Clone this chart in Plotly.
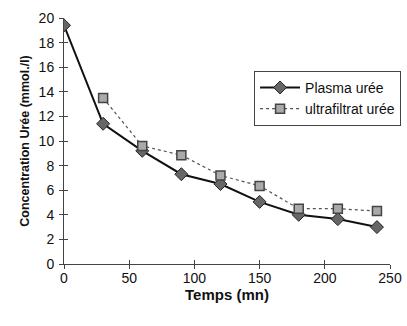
import plotly.graph_objects as go

time_plasma = [0, 30, 60, 90, 120, 150, 180, 210, 240]
plasma_uree = [19.4, 11.4, 9.2, 7.3, 6.5, 5.05, 4.0, 3.65, 3.0]
time_ultra = [30, 60, 90, 120, 150, 180, 210, 240]
ultra_uree = [13.5, 9.6, 8.85, 7.2, 6.35, 4.5, 4.5, 4.3]

FONT = "Arial, Liberation Sans, sans-serif"

fig = go.Figure()
fig.add_trace(go.Scatter(
    x=time_plasma, y=plasma_uree, name="Plasma urée", mode="lines+markers",
    line=dict(color="#111111", width=2),
    marker=dict(symbol="diamond", size=10, color="#666666", line=dict(color="#222222", width=1)),
))
fig.add_trace(go.Scatter(
    x=time_ultra, y=ultra_uree, name="ultrafiltrat urée", mode="lines+markers",
    line=dict(color="#555555", width=1.2, dash="dot"),
    marker=dict(symbol="square", size=9, color="#aaaaaa",
                line=dict(color="#444444", width=1.5)),
))

axis_common = dict(showgrid=False, zeroline=False, showline=True, linecolor="#444444",
                   linewidth=1, ticks="outside", ticklen=4, tickcolor="#444444",
                   tickfont=dict(family=FONT, size=14, color="#111111"))

fig.update_layout(
    width=407, height=326,
    margin=dict(l=64, r=17, t=18, b=62, autoexpand=False),
    paper_bgcolor="white", plot_bgcolor="white",
    font=dict(family=FONT, color="#111111"),
    xaxis=dict(range=[0, 250], dtick=50, **axis_common, ticklabelstandoff=-3,
               title=dict(text="<b>Temps (mn)</b>", font=dict(size=15), standoff=0)),
    yaxis=dict(range=[0, 20], dtick=2, **axis_common, ticklabelstandoff=2,
               title=dict(text="<b>Concentration Urée (mmol./l)</b>", font=dict(size=12.5), standoff=6)),
    xaxis2=dict(range=[0, 250], dtick=50, overlaying="x", side="bottom", showgrid=False,
                zeroline=False, showticklabels=False, ticks="inside", ticklen=4,
                tickcolor="#444444", showline=False, anchor="y"),
    yaxis2=dict(range=[0, 20], dtick=2, overlaying="y", side="left", showgrid=False,
                zeroline=False, showticklabels=False, ticks="inside", ticklen=4,
                tickcolor="#444444", showline=False, anchor="x"),
    legend=dict(x=0.583, y=0.785, xanchor="left", yanchor="top",
                bordercolor="#444444", borderwidth=1, bgcolor="white",
                font=dict(family=FONT, size=14), tracegroupgap=0, itemwidth=40),
    showlegend=True,
)
fig.add_trace(go.Scatter(x=[None], y=[None], xaxis="x2", yaxis="y2", showlegend=False,
                         hoverinfo="skip"))
fig.write_html("out.html")
